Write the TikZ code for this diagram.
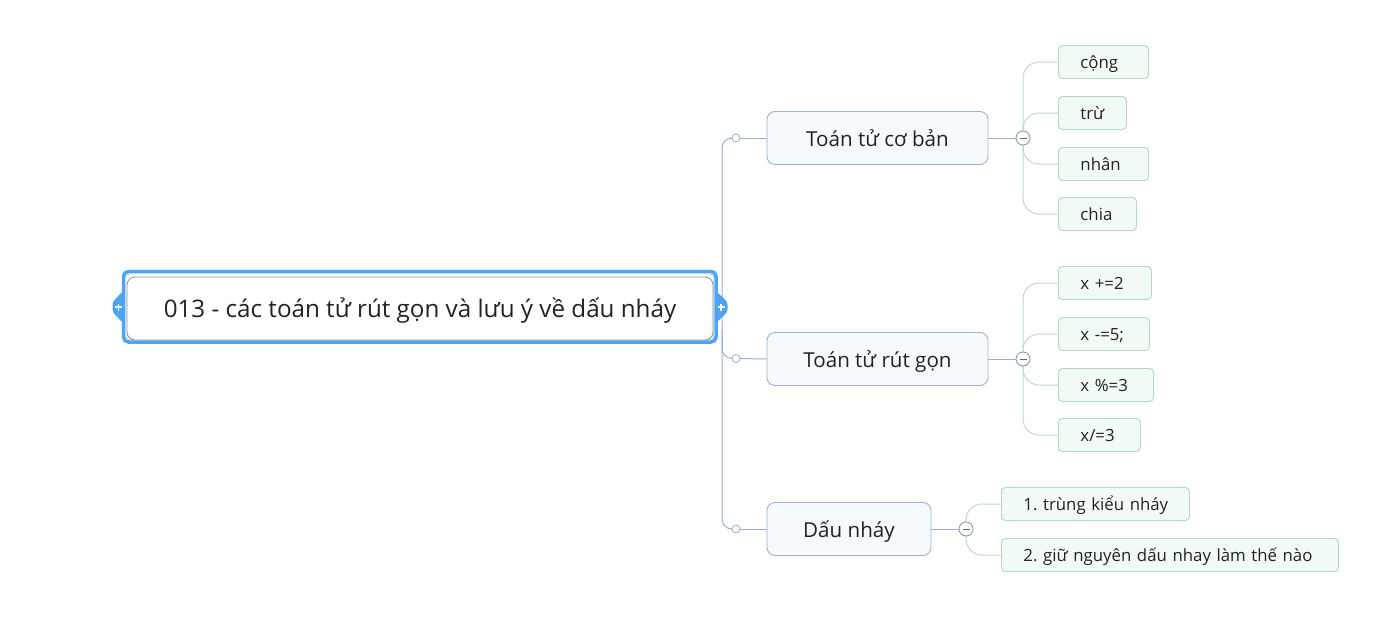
\documentclass[tikz,border=0pt]{standalone}
\usepackage{fontspec}
\setmainfont{Open Sans}
\usetikzlibrary{backgrounds}
\definecolor{trunkc}{HTML}{9AAFD0}
\definecolor{branchfill}{HTML}{F5FAFF}
\definecolor{branchdraw}{HTML}{9DB3D3}
\definecolor{leaffill}{HTML}{F1FAF5}
\definecolor{leafdraw}{HTML}{AEDBC2}
\definecolor{leafline}{HTML}{B9DCC8}
\definecolor{selblue}{HTML}{4DA3F5}
\definecolor{txt}{HTML}{222222}
\tikzset{
  basetext/.style={execute at begin node={\frenchspacing}},
  rootbox/.style={basetext, text height=18.6pt, text depth=1pt, draw=black!45, line width=0.8pt, rounded corners=8pt, fill=white,
    minimum width=586pt, minimum height=63pt, inner sep=0pt, text=txt,
    font=\fontsize{24.2}{29}\selectfont},
  branchbox/.style={basetext, text height=17pt, text depth=1pt, draw=branchdraw, line width=0.9pt, rounded corners=8pt, fill=branchfill,
    minimum height=53pt, inner sep=0pt, text=txt, font=\fontsize{20.6}{25}\selectfont},
  leafbox/.style={basetext, text height=14.6pt, text depth=1pt, draw=leafdraw, line width=0.9pt, rounded corners=4pt, fill=leaffill,
    minimum height=33pt, inner ysep=0pt, inner xsep=22pt, text width=#1-44pt, align=left,
    text=txt, anchor=west, font=\fontsize{16.8}{20}\selectfont},
  dot/.style={circle, draw=trunkc, fill=white, line width=0.8pt, minimum size=8pt, inner sep=0pt},
  toggle/.style={circle, draw=branchdraw!80!black, fill=white, line width=0.8pt, minimum size=14pt, inner sep=0pt,
    path picture={\draw[black!60, line width=0.9pt] ([xshift=-3.5pt]path picture bounding box.center) -- ([xshift=3.5pt]path picture bounding box.center);}},
  trunk/.style={draw=trunkc, line width=1pt},
  leafconn/.style={draw=leafline, line width=1pt, rounded corners=16pt},
  handle/.style={fill=selblue, rounded corners=3pt},
  plussign/.style={white, line width=1.6pt},
}
\begin{document}
\begin{tikzpicture}[x=1pt,y=-1pt]
\useasboundingbox (0,0) rectangle (1398,624);

% root selection frame
\draw[selblue, line width=3.5pt, rounded corners=5pt] (123.5,271.5) rectangle (716,342);
\draw[selblue!40, line width=0.8pt, rounded corners=4pt] (125.8,273.8) rectangle (713.7,339.7);
\node[rootbox] (root) at (420,308.5) {013 - các toán tử rút gọn và lưu ý về dấu nháy};
% handles
\fill[handle] (124,290) -- (112.5,302) -- (112.5,312) -- (124,324) -- cycle;
\draw[plussign] (115,307) -- (122,307) (118.5,303.5) -- (118.5,310.5);
\fill[handle] (715,290) -- (727.5,302) -- (727.5,312) -- (715,324) -- cycle;
\draw[plussign] (717.5,307) -- (724.5,307) (721,303.5) -- (721,310.5);

% branches
\node[branchbox, minimum width=221pt] (b1) at (877.5,138) {Toán tử cơ bản};
\node[branchbox, minimum width=221pt] (b2) at (877.5,359) {Toán tử rút gọn};
\node[branchbox, minimum width=164pt] (b3) at (849,529) {Dấu nháy};

\node[dot] (d1) at (736,138) {};
\node[dot] (d2) at (736,358.5) {};
\node[dot] (d3) at (736,529) {};

\node[toggle] (t1) at (1023,138) {};
\node[toggle] (t2) at (1023,359) {};
\node[toggle] (t3) at (966,529) {};

% leaves
\node[leafbox=90pt] (l11) at (1058,62) {\mbox{cộng}};
\node[leafbox=68pt] (l12) at (1058,113) {\mbox{trừ}};
\node[leafbox=90pt] (l13) at (1058,164) {\mbox{nhân}};
\node[leafbox=78pt] (l14) at (1058,214) {\mbox{chia}};

\node[leafbox=93pt] (l21) at (1058,283) {\mbox{x +=2}};
\node[leafbox=91pt] (l22) at (1058,334) {\mbox{x -=5;}};
\node[leafbox=95pt] (l23) at (1058,385) {\mbox{x \%=3}};
\node[leafbox=82pt] (l24) at (1058,435) {\mbox{x/=3}};

\node[leafbox=188pt] (l31) at (1001,504) {\mbox{1. trùng kiểu nháy}};
\node[leafbox=337pt] (l32) at (1001,555) {\mbox{2. giữ nguyên dấu nhay làm thế nào}};

\begin{pgfonlayer}{background}
  \fill[white] (0,0) rectangle (1398,624);
  % trunk
  \draw[trunk, rounded corners=10pt] (d1.center) -- (722,138) -- (722,529) -- (d3.center);
  \draw[trunk, rounded corners=10pt] (722,330) -- (722,358.5) -- (d2.center);
  \draw[trunk] (d1.center) -- (b1.west);
  \draw[trunk] (d2.center) -- (b2.west);
  \draw[trunk] (d3.center) -- (b3.west);
  \draw[trunk] (b1.east) -- (t1.center);
  \draw[trunk] (b2.east) -- (t2.center);
  \draw[trunk] (b3.east) -- (t3.center);
  % leaf connectors
  \foreach \l in {l11,l12,l13,l14} \draw[leafconn] (t1.center) -- (t1.center |- \l.west) -- (\l.west);
  \foreach \l in {l21,l22,l23,l24} \draw[leafconn] (t2.center) -- (t2.center |- \l.west) -- (\l.west);
  \foreach \l in {l31,l32} \draw[leafconn] (t3.center) -- (t3.center |- \l.west) -- (\l.west);
\end{pgfonlayer}
\end{tikzpicture}
\end{document}
